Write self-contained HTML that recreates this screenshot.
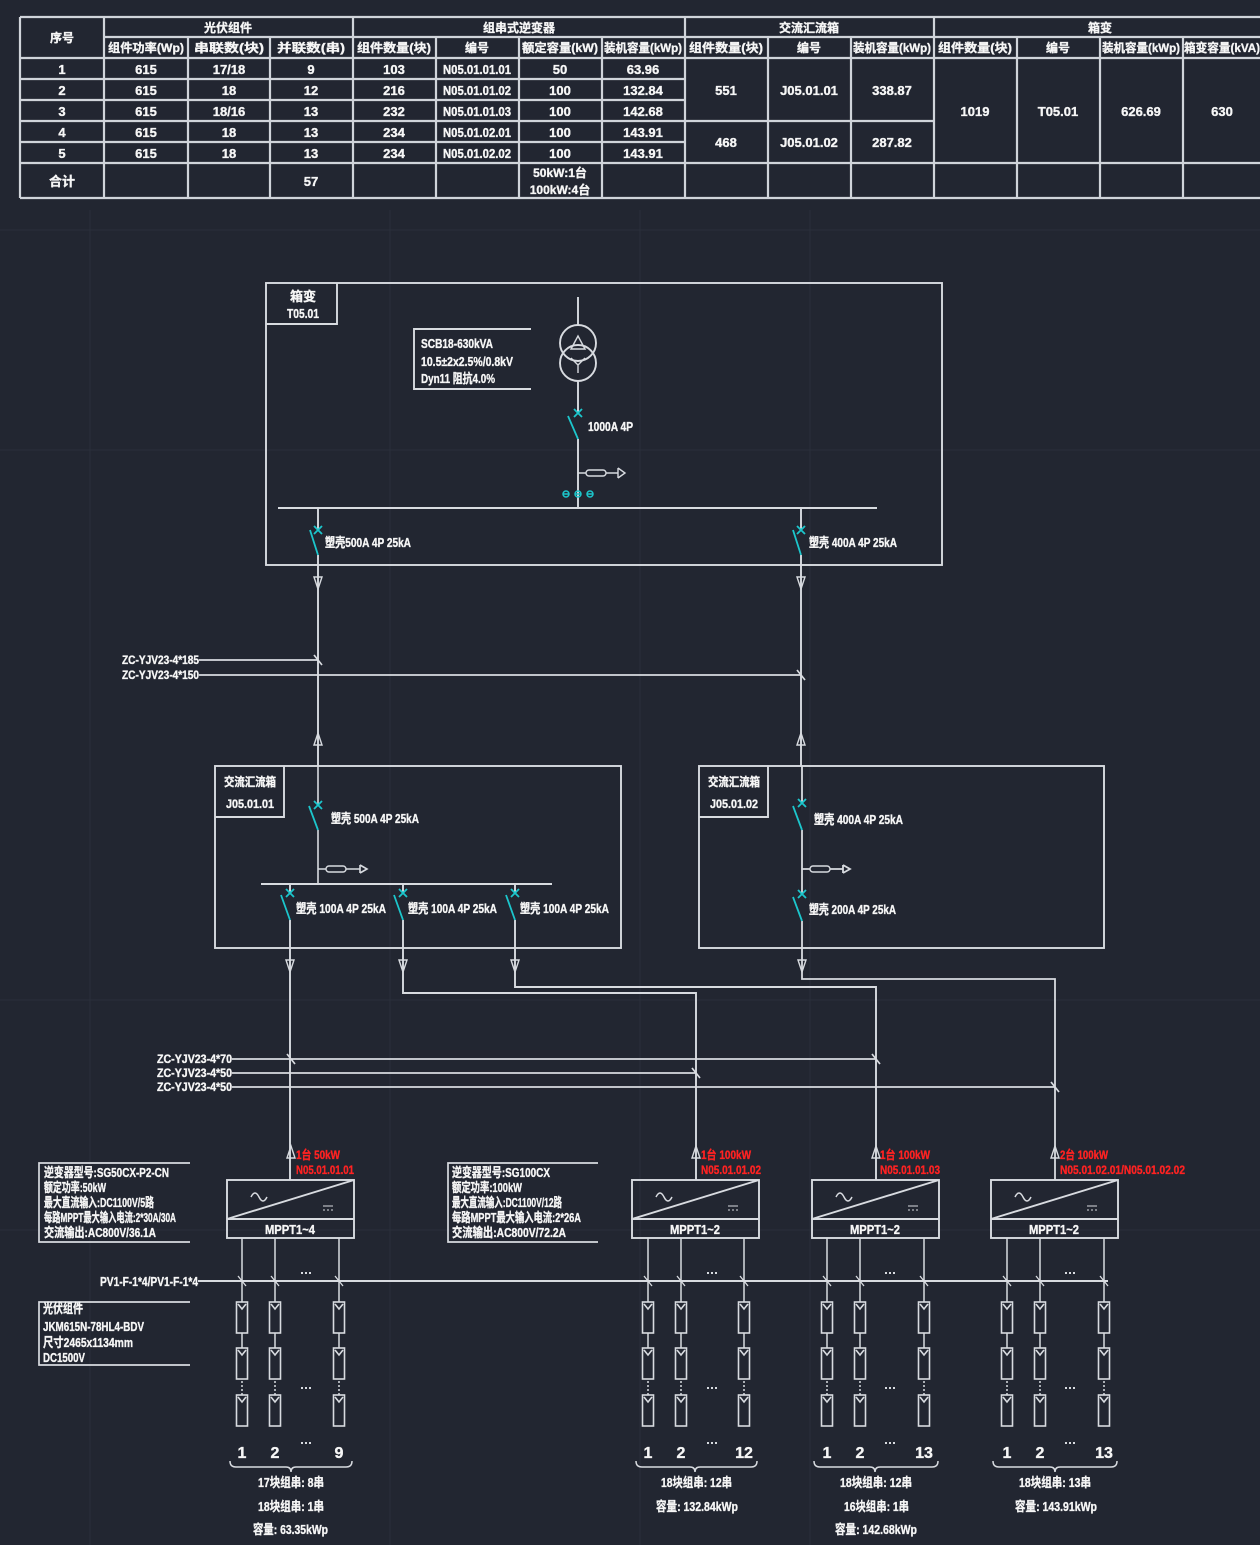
<!DOCTYPE html>
<html><head><meta charset="utf-8"><style>
html,body{margin:0;padding:0;background:#222631;}
svg{display:block;}
.t{font-family:"Liberation Sans Narrow","Liberation Sans","Noto Sans CJK SC",sans-serif;font-weight:bold;fill:#f6f6f6;stroke:#f6f6f6;stroke-width:0.35;}
.r{fill:#ff2222;stroke:#ff2222;}
</style></head><body>
<svg xmlns="http://www.w3.org/2000/svg" xmlns:xlink="http://www.w3.org/1999/xlink" width="1260" height="1545" viewBox="0 0 1260 1545">
<defs>
<g id="mod" fill="none" stroke="#d8dbe0" stroke-width="1.6"><rect x="-5.5" y="0" width="11" height="31"/><path d="M-4 2 L0 7 L4 2"/></g>
<g id="inv" fill="none" stroke="#d8dbe0" stroke-width="1.9"><rect x="0" y="0" width="127" height="58"/><path d="M0 39 H127 M0 39 L127 0"/><path d="M24 17 q4 -8 8 0 t8 0" stroke-width="1.5"/><path d="M96 26 h10 M96 30 h2 M100 30 h2 M104 30 h2" stroke-width="1"/></g>
</defs>
<rect width="1260" height="1545" fill="#222631"/>
<!-- faint grid -->
<g stroke="#2a2f3a" stroke-width="1">
<path d="M0 230H1260 M0 450H1260 M0 1000H1260 M0 1230H1260 M90 210V1545 M390 210V1545 M640 210V1545 M810 210V1545"/>
</g>

<!-- TABLE -->
<g stroke="#d0d4da" stroke-width="2.2" fill="none">
<path d="M20 17H1262 M104 37H1262 M20 58H1262 M20 79H685 M20 100H685 M20 121H934 M20 142H685 M20 163H1262 M20 198H1262 M20 17V198 M104 17V198 M353 17V198 M685 17V198 M934 17V198 M188 37V198 M270 37V198 M436 37V198 M519 37V198 M602 37V198 M768 37V198 M851 37V198 M1017 37V198 M1100 37V198 M1183 37V198"/>
</g>
<g class="t" font-size="12" text-anchor="middle">
<text x="62" y="42">序号</text>
<text x="228" y="32">光伏组件</text>
<text x="519" y="32">组串式逆变器</text>
<text x="809" y="32">交流汇流箱</text>
<text x="1100" y="32">箱变</text>
<text x="146" y="52" textLength="76" lengthAdjust="spacingAndGlyphs">组件功率(Wp)</text>
<text x="229" y="52" textLength="70" lengthAdjust="spacingAndGlyphs">串联数(块)</text>
<text x="311" y="52" textLength="68" lengthAdjust="spacingAndGlyphs">并联数(串)</text>
<text x="394" y="52" textLength="74" lengthAdjust="spacingAndGlyphs">组件数量(块)</text>
<text x="477" y="52">编号</text>
<text x="560" y="52" textLength="76" lengthAdjust="spacingAndGlyphs">额定容量(kW)</text>
<text x="643" y="52" textLength="78" lengthAdjust="spacingAndGlyphs">装机容量(kWp)</text>
<text x="726" y="52" textLength="74" lengthAdjust="spacingAndGlyphs">组件数量(块)</text>
<text x="809" y="52">编号</text>
<text x="892" y="52" textLength="78" lengthAdjust="spacingAndGlyphs">装机容量(kWp)</text>
<text x="975" y="52" textLength="74" lengthAdjust="spacingAndGlyphs">组件数量(块)</text>
<text x="1058" y="52">编号</text>
<text x="1141" y="52" textLength="78" lengthAdjust="spacingAndGlyphs">装机容量(kWp)</text>
<text x="1222" y="52" textLength="76" lengthAdjust="spacingAndGlyphs">箱变容量(kVA)</text>
</g>
<g class="t" font-size="13" text-anchor="middle">
<text x="62" y="74">1</text><text x="146" y="74">615</text><text x="229" y="74">17/18</text><text x="311" y="74">9</text><text x="394" y="74">103</text><text x="477" y="74" textLength="68" lengthAdjust="spacingAndGlyphs">N05.01.01.01</text><text x="560" y="74">50</text><text x="643" y="74">63.96</text>
<text x="62" y="95">2</text><text x="146" y="95">615</text><text x="229" y="95">18</text><text x="311" y="95">12</text><text x="394" y="95">216</text><text x="477" y="95" textLength="68" lengthAdjust="spacingAndGlyphs">N05.01.01.02</text><text x="560" y="95">100</text><text x="643" y="95">132.84</text>
<text x="62" y="116">3</text><text x="146" y="116">615</text><text x="229" y="116">18/16</text><text x="311" y="116">13</text><text x="394" y="116">232</text><text x="477" y="116" textLength="68" lengthAdjust="spacingAndGlyphs">N05.01.01.03</text><text x="560" y="116">100</text><text x="643" y="116">142.68</text>
<text x="62" y="137">4</text><text x="146" y="137">615</text><text x="229" y="137">18</text><text x="311" y="137">13</text><text x="394" y="137">234</text><text x="477" y="137" textLength="68" lengthAdjust="spacingAndGlyphs">N05.01.02.01</text><text x="560" y="137">100</text><text x="643" y="137">143.91</text>
<text x="62" y="158">5</text><text x="146" y="158">615</text><text x="229" y="158">18</text><text x="311" y="158">13</text><text x="394" y="158">234</text><text x="477" y="158" textLength="68" lengthAdjust="spacingAndGlyphs">N05.01.02.02</text><text x="560" y="158">100</text><text x="643" y="158">143.91</text>
<text x="726" y="95">551</text><text x="809" y="95">J05.01.01</text><text x="892" y="95">338.87</text>
<text x="726" y="147">468</text><text x="809" y="147">J05.01.02</text><text x="892" y="147">287.82</text>
<text x="975" y="116">1019</text><text x="1058" y="116">T05.01</text><text x="1141" y="116">626.69</text><text x="1222" y="116">630</text>
<text x="62" y="186">合计</text><text x="311" y="186">57</text>
<text x="560" y="177" font-size="12">50kW:1台</text><text x="560" y="194" font-size="12">100kW:4台</text>
</g>

<!-- DIAGRAM LINES -->
<g fill="none" stroke="#d8dbe0" stroke-width="1.9">
<!-- transformer box -->
<rect x="266" y="283" width="676" height="282"/>
<path d="M266 324H337V283"/>
<path d="M531 329H414V389H531"/>
<path d="M578 297V325 M578 381V413 M578 439V508"/>
<circle cx="578" cy="343" r="18"/><circle cx="578" cy="363" r="18"/>
<path d="M571 349L578 336L585 349Z" stroke-width="1.4"/>
<path d="M571 358L578 365L585 358M578 365V373" stroke-width="1.4"/>
<path d="M578 473H586 M606 473H618 M618 468V478 M618 468L625 473L618 478" stroke-width="1.4"/>
<rect x="586" y="470" width="20" height="6" rx="3" stroke-width="1.4"/>
<path d="M278 508H877"/>
<path d="M318 508V530 M318 555V766 M801 508V530 M801 555V766"/>
<path d="M314 577L318 589L322 577Z M797 577L801 589L805 577Z M314 745L318 733L322 745Z M797 745L801 733L805 745Z" stroke-width="1.4"/>
<path d="M199 660H318 M199 675H801 M314 655L322 665 M797 670L805 680" stroke-width="1.7"/>
<!-- combiner 1 -->
<rect x="215" y="766" width="406" height="182"/>
<path d="M215 817H284V766"/>
<path d="M318 766V805 M318 830V884 M318 869H326 M346 869H360 M360 865V873 M360 865L367 869L360 873" stroke-width="1.6"/>
<rect x="326" y="866" width="20" height="6" rx="3" stroke-width="1.4"/>
<path d="M261 884H552"/>
<path d="M290 884V893 M403 884V893 M515 884V893"/>
<path d="M290 920V1180 M403 920V993H696V1180 M515 920V987H876V1180"/>
<!-- combiner 2 -->
<rect x="699" y="766" width="405" height="182"/>
<path d="M699 817H768V766"/>
<path d="M802 766V803 M802 830V894 M802 921V979H1055V1180 M802 869H810 M830 869H843 M843 865V873 M843 865L850 869L843 873" stroke-width="1.8"/>
<rect x="810" y="866" width="20" height="6" rx="3" stroke-width="1.4"/>
<path d="M286 960L290 972L294 960Z M399 960L403 972L407 960Z M511 960L515 972L519 960Z M798 960L802 972L806 960Z" stroke-width="1.4"/>
<path d="M232 1059H876 M232 1073H696 M232 1087H1055 M287 1054L295 1064 M872 1054L880 1064 M692 1068L700 1078 M1051 1082L1059 1092" stroke-width="1.7"/>
<path d="M287 1158L291 1146L295 1158Z M692 1158L696 1146L700 1158Z M872 1158L876 1146L880 1158Z M1051 1158L1055 1146L1059 1158Z" stroke-width="1.4"/>
<!-- note boxes -->
<path d="M190 1163H39V1242H190 M598 1163H448V1242H598 M190 1302H39V1365H190" stroke-width="1.7"/>
<!-- PV bus -->
<path d="M198 1281H1108"/>
<!-- strings -->
<path d="M242 1238V1302 M275 1238V1302 M339 1238V1302 M648 1238V1302 M681 1238V1302 M744 1238V1302 M827 1238V1302 M860 1238V1302 M924 1238V1302 M1007 1238V1302 M1040 1238V1302 M1104 1238V1302" stroke-width="1.5"/>
<path d="M242 1333V1348 M275 1333V1348 M339 1333V1348 M648 1333V1348 M681 1333V1348 M744 1333V1348 M827 1333V1348 M860 1333V1348 M924 1333V1348 M1007 1333V1348 M1040 1333V1348 M1104 1333V1348" stroke-width="1.5"/>
<path d="M242 1381V1395 M275 1381V1395 M339 1381V1395 M648 1381V1395 M681 1381V1395 M744 1381V1395 M827 1381V1395 M860 1381V1395 M924 1381V1395 M1007 1381V1395 M1040 1381V1395 M1104 1381V1395" stroke-width="1.5" stroke-dasharray="2 2"/>
<path d="M238 1276L246 1286 M271 1276L279 1286 M335 1276L343 1286 M644 1276L652 1286 M677 1276L685 1286 M740 1276L748 1286 M823 1276L831 1286 M856 1276L864 1286 M920 1276L928 1286 M1003 1276L1011 1286 M1036 1276L1044 1286 M1100 1276L1108 1286" stroke-width="1.3"/>
<!-- braces -->
<path d="M230 1461q0 6 6 6H286q5 0 5 5q0 -5 5 -5H346q6 0 6 -6 M636 1461q0 6 6 6H690q5 0 5 5q0 -5 5 -5H751q6 0 6 -6 M814 1461q0 6 6 6H870q5 0 5 5q0 -5 5 -5H932q6 0 6 -6 M993 1461q0 6 6 6H1050q5 0 5 5q0 -5 5 -5H1111q6 0 6 -6" stroke-width="1.5"/>
</g>

<!-- cyan breakers -->
<g fill="none" stroke="#1cc6cc" stroke-width="1.8">
<path d="M574 409L582 417 M582 409L574 417 M568 416L578 439"/>
<path d="M314 526L322 534 M322 526L314 534 M310 530L318 555"/>
<path d="M797 526L805 534 M805 526L797 534 M793 530L801 555"/>
<path d="M314 801L322 809 M322 801L314 809 M309 806L318 830"/>
<path d="M286 889L294 897 M294 889L286 897 M281 895L290 920"/>
<path d="M399 889L407 897 M407 889L399 897 M394 895L403 920"/>
<path d="M511 889L519 897 M519 889L511 897 M506 895L515 920"/>
<path d="M798 799L806 807 M806 799L798 807 M793 806L802 830"/>
<path d="M798 890L806 898 M806 890L798 898 M793 897L802 921"/>
<path d="M563 494H569 M575 494H581 M587 494H593" stroke-width="1.5"/>
<circle cx="566" cy="494" r="3" stroke-width="1.5"/><circle cx="578" cy="494" r="3" stroke-width="1.5"/><circle cx="590" cy="494" r="3" stroke-width="1.5"/>
</g>

<!-- inverters -->
<use xlink:href="#inv" x="227" y="1180"/>
<use xlink:href="#inv" x="632" y="1180"/>
<use xlink:href="#inv" x="812" y="1180"/>
<use xlink:href="#inv" x="991" y="1180"/>

<!-- modules -->
<g>
<use xlink:href="#mod" x="242" y="1302"/><use xlink:href="#mod" x="242" y="1348"/><use xlink:href="#mod" x="242" y="1395"/>
<use xlink:href="#mod" x="275" y="1302"/><use xlink:href="#mod" x="275" y="1348"/><use xlink:href="#mod" x="275" y="1395"/>
<use xlink:href="#mod" x="339" y="1302"/><use xlink:href="#mod" x="339" y="1348"/><use xlink:href="#mod" x="339" y="1395"/>
<use xlink:href="#mod" x="648" y="1302"/><use xlink:href="#mod" x="648" y="1348"/><use xlink:href="#mod" x="648" y="1395"/>
<use xlink:href="#mod" x="681" y="1302"/><use xlink:href="#mod" x="681" y="1348"/><use xlink:href="#mod" x="681" y="1395"/>
<use xlink:href="#mod" x="744" y="1302"/><use xlink:href="#mod" x="744" y="1348"/><use xlink:href="#mod" x="744" y="1395"/>
<use xlink:href="#mod" x="827" y="1302"/><use xlink:href="#mod" x="827" y="1348"/><use xlink:href="#mod" x="827" y="1395"/>
<use xlink:href="#mod" x="860" y="1302"/><use xlink:href="#mod" x="860" y="1348"/><use xlink:href="#mod" x="860" y="1395"/>
<use xlink:href="#mod" x="924" y="1302"/><use xlink:href="#mod" x="924" y="1348"/><use xlink:href="#mod" x="924" y="1395"/>
<use xlink:href="#mod" x="1007" y="1302"/><use xlink:href="#mod" x="1007" y="1348"/><use xlink:href="#mod" x="1007" y="1395"/>
<use xlink:href="#mod" x="1040" y="1302"/><use xlink:href="#mod" x="1040" y="1348"/><use xlink:href="#mod" x="1040" y="1395"/>
<use xlink:href="#mod" x="1104" y="1302"/><use xlink:href="#mod" x="1104" y="1348"/><use xlink:href="#mod" x="1104" y="1395"/>
</g>

<!-- small dots "..." -->
<g fill="#d8dbe0">
<rect x="301" y="1272" width="2" height="2"/><rect x="305" y="1272" width="2" height="2"/><rect x="309" y="1272" width="2" height="2"/>
<rect x="707" y="1272" width="2" height="2"/><rect x="711" y="1272" width="2" height="2"/><rect x="715" y="1272" width="2" height="2"/>
<rect x="885" y="1272" width="2" height="2"/><rect x="889" y="1272" width="2" height="2"/><rect x="893" y="1272" width="2" height="2"/>
<rect x="1065" y="1272" width="2" height="2"/><rect x="1069" y="1272" width="2" height="2"/><rect x="1073" y="1272" width="2" height="2"/>
<rect x="301" y="1387" width="2" height="2"/><rect x="305" y="1387" width="2" height="2"/><rect x="309" y="1387" width="2" height="2"/>
<rect x="707" y="1387" width="2" height="2"/><rect x="711" y="1387" width="2" height="2"/><rect x="715" y="1387" width="2" height="2"/>
<rect x="885" y="1387" width="2" height="2"/><rect x="889" y="1387" width="2" height="2"/><rect x="893" y="1387" width="2" height="2"/>
<rect x="1065" y="1387" width="2" height="2"/><rect x="1069" y="1387" width="2" height="2"/><rect x="1073" y="1387" width="2" height="2"/>
<rect x="301" y="1442" width="2" height="2"/><rect x="305" y="1442" width="2" height="2"/><rect x="309" y="1442" width="2" height="2"/>
<rect x="707" y="1442" width="2" height="2"/><rect x="711" y="1442" width="2" height="2"/><rect x="715" y="1442" width="2" height="2"/>
<rect x="885" y="1442" width="2" height="2"/><rect x="889" y="1442" width="2" height="2"/><rect x="893" y="1442" width="2" height="2"/>
<rect x="1065" y="1442" width="2" height="2"/><rect x="1069" y="1442" width="2" height="2"/><rect x="1073" y="1442" width="2" height="2"/>
</g>

<!-- TEXT -->
<g class="t" font-size="13">
<text x="290" y="301">箱变</text>
<text x="287" y="318" textLength="32" lengthAdjust="spacingAndGlyphs">T05.01</text>
<text x="421" y="348" textLength="72" lengthAdjust="spacingAndGlyphs">SCB18-630kVA</text>
<text x="421" y="366" textLength="92" lengthAdjust="spacingAndGlyphs">10.5±2x2.5%/0.8kV</text>
<text x="421" y="383" textLength="74" lengthAdjust="spacingAndGlyphs">Dyn11 阻抗4.0%</text>
<text x="588" y="431" textLength="45" lengthAdjust="spacingAndGlyphs">1000A 4P</text>
<text x="325" y="547" textLength="86" lengthAdjust="spacingAndGlyphs">塑壳500A 4P 25kA</text>
<text x="809" y="547" textLength="88" lengthAdjust="spacingAndGlyphs">塑壳 400A 4P 25kA</text>
<text x="122" y="664" font-size="12" textLength="77" lengthAdjust="spacingAndGlyphs">ZC-YJV23-4*185</text>
<text x="122" y="679" font-size="12" textLength="77" lengthAdjust="spacingAndGlyphs">ZC-YJV23-4*150</text>
<text x="224" y="786" font-size="12" textLength="52" lengthAdjust="spacingAndGlyphs">交流汇流箱</text>
<text x="226" y="808" font-size="12" textLength="48" lengthAdjust="spacingAndGlyphs">J05.01.01</text>
<text x="708" y="786" font-size="12" textLength="52" lengthAdjust="spacingAndGlyphs">交流汇流箱</text>
<text x="710" y="808" font-size="12" textLength="48" lengthAdjust="spacingAndGlyphs">J05.01.02</text>
<text x="331" y="823" textLength="88" lengthAdjust="spacingAndGlyphs">塑壳 500A 4P 25kA</text>
<text x="814" y="824" textLength="89" lengthAdjust="spacingAndGlyphs">塑壳 400A 4P 25kA</text>
<text x="296" y="913" textLength="90" lengthAdjust="spacingAndGlyphs">塑壳 100A 4P 25kA</text>
<text x="408" y="913" textLength="89" lengthAdjust="spacingAndGlyphs">塑壳 100A 4P 25kA</text>
<text x="520" y="913" textLength="89" lengthAdjust="spacingAndGlyphs">塑壳 100A 4P 25kA</text>
<text x="809" y="914" textLength="87" lengthAdjust="spacingAndGlyphs">塑壳 200A 4P 25kA</text>
<text x="157" y="1063" font-size="12" textLength="75" lengthAdjust="spacingAndGlyphs">ZC-YJV23-4*70</text>
<text x="157" y="1077" font-size="12" textLength="75" lengthAdjust="spacingAndGlyphs">ZC-YJV23-4*50</text>
<text x="157" y="1091" font-size="12" textLength="75" lengthAdjust="spacingAndGlyphs">ZC-YJV23-4*50</text>
</g>
<g class="t r" font-size="12">
<text x="296" y="1159" textLength="44" lengthAdjust="spacingAndGlyphs">1台 50kW</text>
<text x="296" y="1174" textLength="58" lengthAdjust="spacingAndGlyphs">N05.01.01.01</text>
<text x="701" y="1159" textLength="50" lengthAdjust="spacingAndGlyphs">1台 100kW</text>
<text x="701" y="1174" textLength="60" lengthAdjust="spacingAndGlyphs">N05.01.01.02</text>
<text x="880" y="1159" textLength="50" lengthAdjust="spacingAndGlyphs">1台 100kW</text>
<text x="880" y="1174" textLength="60" lengthAdjust="spacingAndGlyphs">N05.01.01.03</text>
<text x="1060" y="1159" textLength="48" lengthAdjust="spacingAndGlyphs">2台 100kW</text>
<text x="1060" y="1174" textLength="125" lengthAdjust="spacingAndGlyphs">N05.01.02.01/N05.01.02.02</text>
</g>
<g class="t" font-size="13">
<text x="44" y="1177" textLength="125" lengthAdjust="spacingAndGlyphs">逆变器型号:SG50CX-P2-CN</text>
<text x="44" y="1192" textLength="62" lengthAdjust="spacingAndGlyphs">额定功率:50kW</text>
<text x="44" y="1207" textLength="110" lengthAdjust="spacingAndGlyphs">最大直流输入:DC1100V/5路</text>
<text x="44" y="1222" textLength="132" lengthAdjust="spacingAndGlyphs">每路MPPT最大输入电流:2*30A/30A</text>
<text x="44" y="1237" textLength="112" lengthAdjust="spacingAndGlyphs">交流输出:AC800V/36.1A</text>
<text x="452" y="1177" textLength="98" lengthAdjust="spacingAndGlyphs">逆变器型号:SG100CX</text>
<text x="452" y="1192" textLength="70" lengthAdjust="spacingAndGlyphs">额定功率:100kW</text>
<text x="452" y="1207" textLength="110" lengthAdjust="spacingAndGlyphs">最大直流输入:DC1100V/12路</text>
<text x="452" y="1222" textLength="129" lengthAdjust="spacingAndGlyphs">每路MPPT最大输入电流:2*26A</text>
<text x="452" y="1237" textLength="114" lengthAdjust="spacingAndGlyphs">交流输出:AC800V/72.2A</text>
<text x="290" y="1234" text-anchor="middle" textLength="50" lengthAdjust="spacingAndGlyphs">MPPT1~4</text>
<text x="695" y="1234" text-anchor="middle" textLength="50" lengthAdjust="spacingAndGlyphs">MPPT1~2</text>
<text x="875" y="1234" text-anchor="middle" textLength="50" lengthAdjust="spacingAndGlyphs">MPPT1~2</text>
<text x="1054" y="1234" text-anchor="middle" textLength="50" lengthAdjust="spacingAndGlyphs">MPPT1~2</text>
<text x="100" y="1286" textLength="98" lengthAdjust="spacingAndGlyphs">PV1-F-1*4/PV1-F-1*4</text>
<text x="43" y="1313" textLength="40" lengthAdjust="spacingAndGlyphs">光伏组件</text>
<text x="43" y="1331" textLength="101" lengthAdjust="spacingAndGlyphs">JKM615N-78HL4-BDV</text>
<text x="43" y="1347" textLength="90" lengthAdjust="spacingAndGlyphs">尺寸2465x1134mm</text>
<text x="43" y="1362" textLength="42" lengthAdjust="spacingAndGlyphs">DC1500V</text>
</g>
<g class="t" font-size="16" text-anchor="middle">
<text x="242" y="1458">1</text><text x="275" y="1458">2</text><text x="339" y="1458">9</text>
<text x="648" y="1458">1</text><text x="681" y="1458">2</text><text x="744" y="1458">12</text>
<text x="827" y="1458">1</text><text x="860" y="1458">2</text><text x="924" y="1458">13</text>
<text x="1007" y="1458">1</text><text x="1040" y="1458">2</text><text x="1104" y="1458">13</text>
</g>
<g class="t" font-size="13">
<text x="258" y="1487" textLength="66" lengthAdjust="spacingAndGlyphs">17块组串: 8串</text>
<text x="258" y="1511" textLength="66" lengthAdjust="spacingAndGlyphs">18块组串: 1串</text>
<text x="253" y="1534" textLength="75" lengthAdjust="spacingAndGlyphs">容量: 63.35kWp</text>
<text x="661" y="1487" textLength="71" lengthAdjust="spacingAndGlyphs">18块组串: 12串</text>
<text x="656" y="1511" textLength="82" lengthAdjust="spacingAndGlyphs">容量: 132.84kWp</text>
<text x="840" y="1487" textLength="72" lengthAdjust="spacingAndGlyphs">18块组串: 12串</text>
<text x="844" y="1511" textLength="65" lengthAdjust="spacingAndGlyphs">16块组串: 1串</text>
<text x="835" y="1534" textLength="82" lengthAdjust="spacingAndGlyphs">容量: 142.68kWp</text>
<text x="1019" y="1487" textLength="72" lengthAdjust="spacingAndGlyphs">18块组串: 13串</text>
<text x="1015" y="1511" textLength="82" lengthAdjust="spacingAndGlyphs">容量: 143.91kWp</text>
</g>
</svg>
</body></html>
